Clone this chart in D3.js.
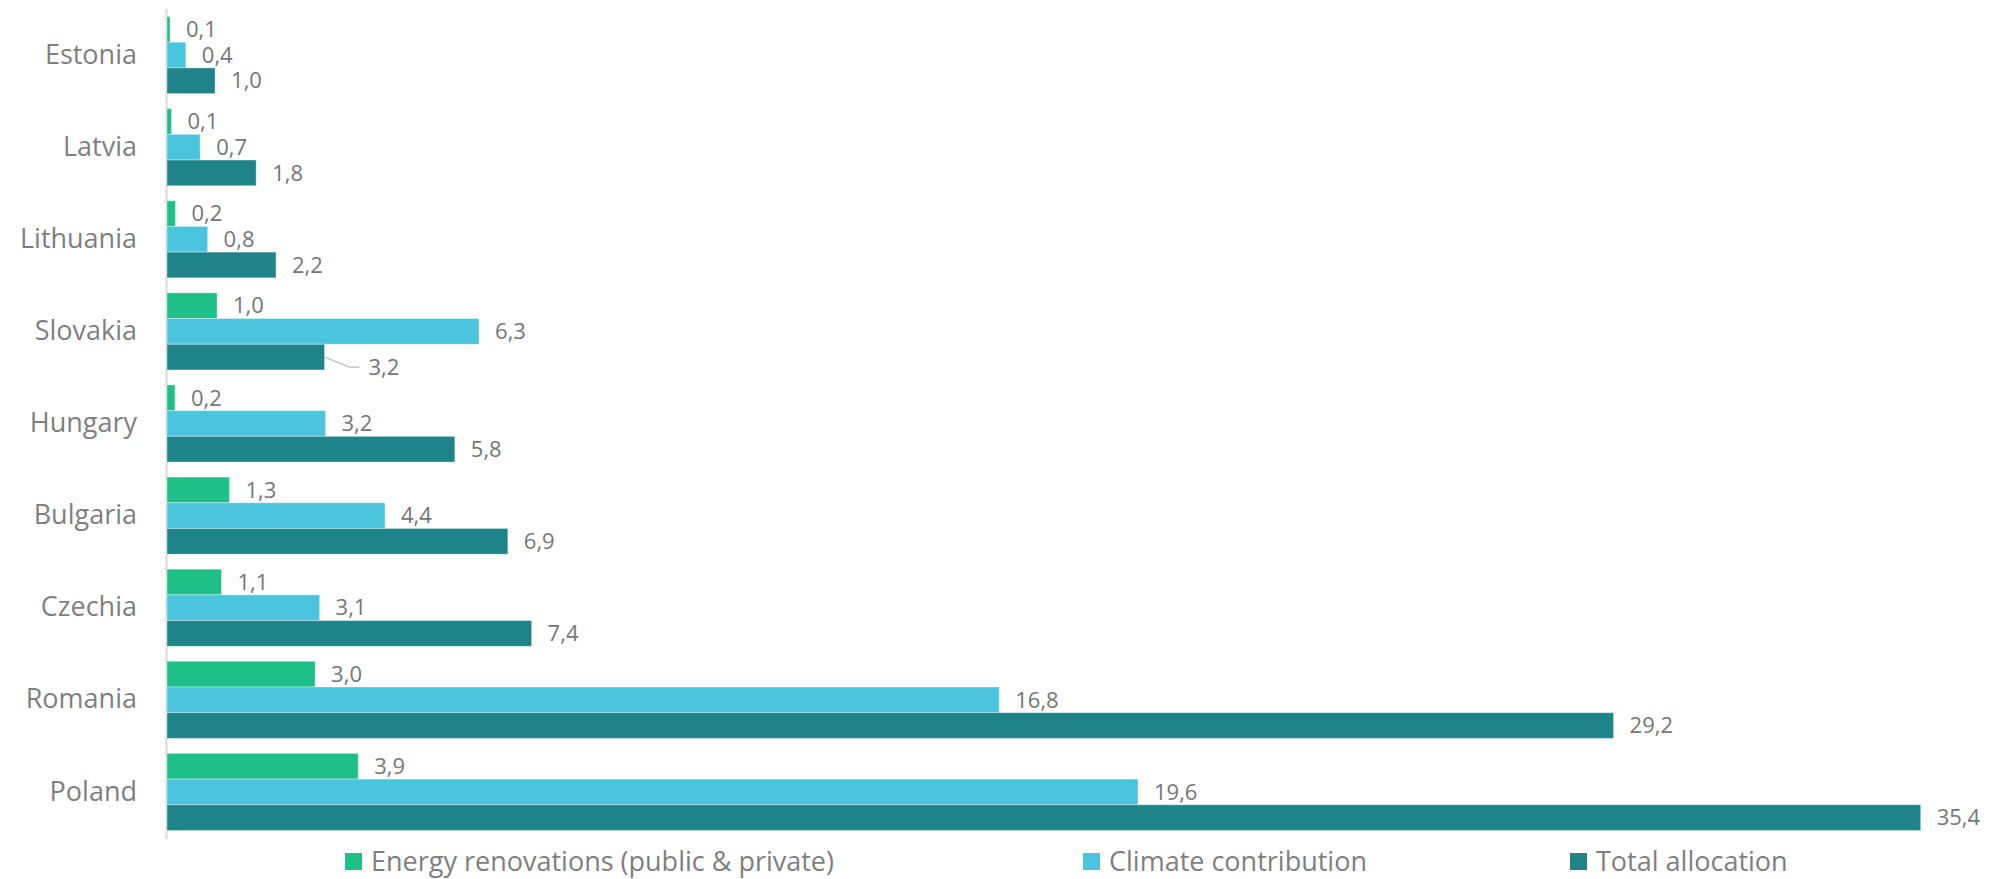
<!DOCTYPE html>
<html>
<head>
<meta charset="utf-8">
<script src="https://cdn.jsdelivr.net/npm/d3@7"></script>
<style>
  html, body { margin: 0; padding: 0; background: #ffffff; }
  svg { display: block; font-family: "Open Sans", "Noto Sans", sans-serif; }
</style>
</head>
<body>
<svg id="chart" width="1991" height="879"></svg>
<script>
const countries = ["Estonia", "Latvia", "Lithuania", "Slovakia", "Hungary", "Bulgaria", "Czechia", "Romania", "Poland"];
const seriesNames = ["Energy renovations (public & private)", "Climate contribution", "Total allocation"];
const energyRenovations = [0.06, 0.09, 0.17, 1.01, 0.16, 1.26, 1.1, 2.99, 3.86];
const climateContribution = [0.38, 0.67, 0.82, 6.3, 3.2, 4.4, 3.08, 16.8, 19.6];
const totalAllocation = [0.97, 1.8, 2.2, 3.18, 5.81, 6.88, 7.36, 29.2, 35.4];
const seriesColors = ["#1FC088", "#4BC4DD", "#1F8489"];

const svg = d3.select("#chart");
const plot = { left: 167, right: 1920.7, top: 9, bottom: 838 };

const allSeries = [energyRenovations, climateContribution, totalAllocation];

const x = d3.scaleLinear().domain([0, 35.4]).range([plot.left, plot.right]);
const y = d3.scaleBand().domain(countries).range([plot.top, plot.bottom])
  .paddingInner(0.163).paddingOuter(0.0815);
const ySub = d3.scaleBand().domain(d3.range(3)).range([0, y.bandwidth()]).padding(0);

const locale = d3.formatLocale({ decimal: ",", thousands: ".", grouping: [3], currency: ["", "€"] });
const fmt = locale.format(".1f");

const textColor = "#767676";

// category axis
const yAxis = d3.axisLeft(y).tickSize(0).tickPadding(29);
const gAxis = svg.append("g").attr("transform", `translate(${plot.left - 1},0)`).call(yAxis);
gAxis.select(".domain").attr("stroke", "#d9d9d9").attr("stroke-width", 2);
gAxis.selectAll(".tick text")
  .attr("fill", "#7f7f7f")
  .style("font-size", "27px")
  .style("font-family", "'Open Sans', sans-serif");

// bars
const data = [];
countries.forEach((c, i) => {
  allSeries.forEach((s, k) => data.push({ country: c, k, value: s[i] }));
});

svg.append("g").selectAll("rect").data(data).join("rect")
  .attr("x", x(0))
  .attr("y", d => y(d.country) + ySub(d.k))
  .attr("width", d => x(d.value) - x(0))
  .attr("height", ySub.bandwidth())
  .attr("fill", d => seriesColors[d.k])
  .attr("stroke", "rgba(255,255,255,0.35)")
  .attr("stroke-width", 1);

// value labels
const labelG = svg.append("g");
data.forEach(d => {
  const bx = x(d.value);
  const by = y(d.country) + ySub(d.k) + ySub.bandwidth() / 2;
  let lx = bx + 16, ly = by;
  const isCallout = d.country === "Slovakia" && d.k === 2;
  if (isCallout) {
    lx = bx + 44; ly = by + 10;
    labelG.append("polyline")
      .attr("points", `${bx},${by} ${bx + 25},${ly} ${bx + 35},${ly}`)
      .attr("fill", "none").attr("stroke", "#bfbfbf").attr("stroke-width", 1.2);
  }
  labelG.append("text")
    .attr("x", lx).attr("y", ly)
    .attr("dy", "0.35em")
    .attr("fill", textColor)
    .style("font-size", "22px")
    .text(fmt(d.value));
});

// legend
const legendX = [345, 1083, 1570];
const legend = svg.append("g");
seriesNames.forEach((name, k) => {
  const g = legend.append("g").attr("transform", `translate(${legendX[k]},0)`);
  g.append("rect").attr("x", 0).attr("y", 853).attr("width", 17).attr("height", 17).attr("fill", seriesColors[k]);
  g.append("text").attr("x", 26).attr("y", 861.5).attr("dy", "0.35em")
    .attr("fill", "#7f7f7f").style("font-size", "27px").text(name);
});
</script>
</body>
</html>
